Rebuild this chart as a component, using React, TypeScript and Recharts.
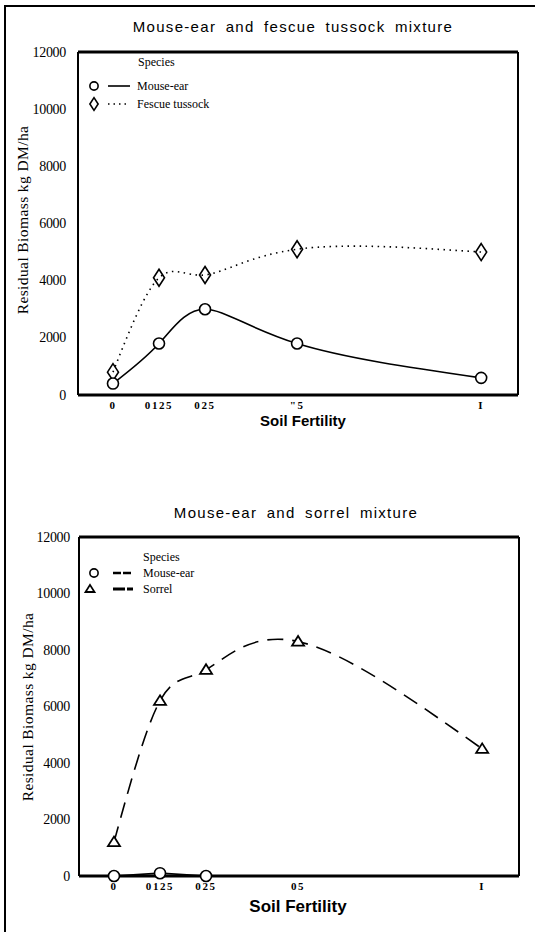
import { LineChart, Line, XAxis, YAxis, ReferenceLine } from 'recharts';

// soil fertility levels (x positions)
const fertility = [0, 0.125, 0.25, 0.5, 1];
const yTicks = [0, 2000, 4000, 6000, 8000, 10000, 12000];
const fescueXLabels = ['0', '0125', '025', '"5', 'I'];
const sorrelXLabels = ['0', '0125', '025', '05', 'I'];

// mouse-ear and fescue tussock mixture
const mouseEarWithFescue = [400, 1800, 3000, 1800, 600];
const fescueTussock = [800, 4100, 4200, 5100, 5000];

// mouse-ear and sorrel mixture
const mouseEarWithSorrel = [0, 100, 0, null, null];
const sorrel = [1200, 6200, 7300, 8300, 4500];

const fescueData = fertility.map((f, i) => ({ f, mouse: mouseEarWithFescue[i], other: fescueTussock[i] }));
const sorrelData = fertility.map((f, i) => ({ f, mouse: mouseEarWithSorrel[i], other: sorrel[i] }));

const SERIF = '"Liberation Serif", "Times New Roman", serif';
const SANS = '"Liberation Sans", Arial, sans-serif';
const Y_LABEL = 'Residual Biomass kg DM/ha';

const Circle = ({ cx, cy, s = 1 }: any) => (
  <circle cx={cx} cy={cy} r={5.5 * s} fill="#fff" stroke="#000" strokeWidth={1.6} />
);
const Diamond = ({ cx, cy, s = 1 }: any) => (
  <path
    d={`M${cx},${cy - 8.5 * s}L${cx + 5.5 * s},${cy}L${cx},${cy + 8.5 * s}L${cx - 5.5 * s},${cy}Z`}
    fill="none" stroke="#000" strokeWidth={1.6}
  />
);
const Triangle = ({ cx, cy, s = 1 }: any) => (
  <path
    d={`M${cx},${cy - 5.5 * s}L${cx + 6 * s},${cy + 4 * s}L${cx - 6 * s},${cy + 4 * s}Z`}
    fill="#fff" stroke="#000" strokeWidth={1.8}
  />
);

const dotOf = (Shape: any) => (p: any) =>
  p.cx == null || p.cy == null ? <g key={p.index} /> : <Shape key={p.index} cx={p.cx} cy={p.cy} />;

// tick renderers, so the serif faces are applied for sure
const xTickOf = (labels: string[]) => (p: any) => (
  <text x={p.x} y={p.y + 6} textAnchor="middle" fontFamily={SERIF} fontSize={11} fontWeight={700}
    letterSpacing={1.6} fill="#000">
    {labels[fertility.indexOf(p.payload.value)]}
  </text>
);
const yTickOf = (gap: number) => (p: any) => (
  <text x={p.x + 6 - gap} y={p.y} textAnchor="end" dominantBaseline="central" fontFamily={SERIF}
    fontSize={14} letterSpacing={-0.3} fill="#000">
    {p.payload.value}
  </text>
);

const YLabel = ({ x, y }: any) => (
  <svg width={535} height={932} style={{ position: 'absolute', left: 0, top: 0, overflow: 'visible', pointerEvents: 'none' }}>
    <text x={x} y={y} transform={`rotate(-90 ${x} ${y})`} textAnchor="middle" dominantBaseline="central"
      fontFamily={SERIF} fontSize={15.5} letterSpacing={0.4} fill="#000">
      {Y_LABEL}
    </text>
  </svg>
);

const SpeciesLegend = ({ top, speciesX, rowOffset, rowGap, markerX, lineX1, lineX2, textX, fontSize, items }: any) => (
  <svg width={535} height={80} style={{ position: 'absolute', left: 0, top, overflow: 'visible' }}>
    <text x={speciesX} y={0} dominantBaseline="central" fontFamily={SERIF} fontSize={fontSize}>Species</text>
    {items.map((it: any, i: number) => {
      const cy = rowOffset + i * rowGap;
      return (
        <g key={it.name}>
          <it.Shape cx={markerX + (it.dx || 0)} cy={cy} s={0.75} />
          <line x1={lineX1} x2={lineX2} y1={cy} y2={cy} stroke="#000" strokeWidth={it.w} strokeDasharray={it.dash} />
          <text x={textX} y={cy} dominantBaseline="central" fontFamily={SERIF} fontSize={fontSize}>{it.name}</text>
        </g>
      );
    })}
  </svg>
);

const Title = ({ text, top, cx }: any) => (
  <div style={{
    position: 'absolute', top, left: cx - 250, width: 500, textAlign: 'center',
    fontFamily: SANS, fontSize: 15, letterSpacing: 1.3, wordSpacing: 4, color: '#000', lineHeight: '18px',
  }}>{text}</div>
);

export default function App() {
  return (
    <div style={{ position: 'relative', width: 535, height: 932, overflow: 'hidden', background: '#fff' }}>
      <style>{'body{margin:0}'}</style>
      <div style={{
        position: 'absolute', left: 4, top: 5, width: 600, height: 1000,
        borderLeft: '2px solid #000', borderTop: '2px solid #000',
      }} />

      <Title text="Mouse-ear and fescue tussock mixture" top={18} cx={293} />
      <div style={{ position: 'absolute', top: 0, left: 0 }}>
        <LineChart width={535} height={440} data={fescueData} margin={{ top: 52, right: 17, bottom: 15, left: 0 }}>
          <XAxis
            type="number" dataKey="f" domain={[-0.095, 1.1]} allowDataOverflow ticks={fertility} interval={0}
            axisLine={{ stroke: '#000', strokeWidth: 3 }} tickLine={false} tick={xTickOf(fescueXLabels)} height={30}
            label={{ value: 'Soil  Fertility', position: 'insideBottom', offset: -1, dx: 5,
              style: { fontFamily: SANS, fontSize: 15, fontWeight: 700, fill: '#000', whiteSpace: 'pre' } }}
          />
          <YAxis
            domain={[0, 12000]} ticks={yTicks} interval={0} width={78}
            axisLine={{ stroke: '#000', strokeWidth: 2 }} tickLine={false} tick={yTickOf(10)}
          />
          <ReferenceLine y={12000} stroke="#000" strokeWidth={3} />
          <ReferenceLine x={1.1} stroke="#000" strokeWidth={2} />
          <Line type="natural" dataKey="other" stroke="#000" strokeWidth={1.6} strokeDasharray="1.5 4.5"
            dot={dotOf(Diamond)} activeDot={false} isAnimationActive={false} />
          <Line type="natural" dataKey="mouse" stroke="#000" strokeWidth={1.6}
            dot={dotOf(Circle)} activeDot={false} isAnimationActive={false} />
        </LineChart>
      </div>
      <YLabel x={22} y={220} />
      <SpeciesLegend
        top={62} speciesX={138} rowOffset={24} rowGap={18} markerX={94} lineX1={108} lineX2={130} textX={137}
        fontSize={12}
        items={[
          { name: 'Mouse-ear', Shape: Circle, w: 1.6 },
          { name: 'Fescue tussock', Shape: Diamond, w: 1.4, dash: '1.5 4' },
        ]}
      />

      <Title text="Mouse-ear and sorrel mixture" top={504} cx={296} />
      <div style={{ position: 'absolute', top: 460, left: 0 }}>
        <LineChart width={535} height={472} data={sorrelData} margin={{ top: 77, right: 16, bottom: 18, left: 0 }}>
          <XAxis
            type="number" dataKey="f" domain={[-0.095, 1.1]} allowDataOverflow ticks={fertility} interval={0}
            axisLine={{ stroke: '#000', strokeWidth: 3 }} tickLine={false} tick={xTickOf(sorrelXLabels)} height={38}
            label={{ value: 'Soil Fertility', position: 'insideBottom', offset: 2, dx: -1,
              style: { fontFamily: SANS, fontSize: 17, fontWeight: 700, fill: '#000' } }}
          />
          <YAxis
            domain={[0, 12000]} ticks={yTicks} interval={0} width={79}
            axisLine={{ stroke: '#000', strokeWidth: 2 }} tickLine={false} tick={yTickOf(7)}
          />
          <ReferenceLine y={12000} stroke="#000" strokeWidth={3} />
          <ReferenceLine x={1.1} stroke="#000" strokeWidth={2} />
          <Line type="natural" dataKey="other" stroke="#000" strokeWidth={1.6} strokeDasharray="16 9"
            dot={dotOf(Triangle)} activeDot={false} isAnimationActive={false} />
          <Line type="linear" dataKey="mouse" stroke="#000" strokeWidth={1.6}
            dot={dotOf(Circle)} activeDot={false} isAnimationActive={false} />
        </LineChart>
      </div>
      <YLabel x={27} y={707} />
      <SpeciesLegend
        top={557} speciesX={143} rowOffset={16} rowGap={16} markerX={94} lineX1={113} lineX2={133} textX={143}
        fontSize={12}
        items={[
          { name: 'Mouse-ear', Shape: Circle, w: 2.5, dash: '8 2' },
          { name: 'Sorrel', Shape: Triangle, w: 3, dash: '12 2', dx: -4 },
        ]}
      />
    </div>
  );
}
